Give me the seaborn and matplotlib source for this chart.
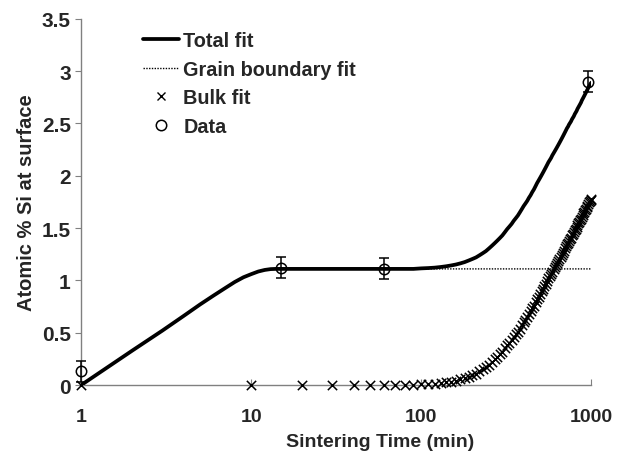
import matplotlib
matplotlib.use("Agg")
import matplotlib.pyplot as plt
from matplotlib.lines import Line2D
import seaborn as sns
import pandas as pd

# Measured data (sintering time in min, atomic % Si, error)
data_time = [1, 15, 60, 960]
data_value = [0.13, 1.12, 1.11, 2.90]
data_err = [0.1, 0.1, 0.1, 0.1]

# Grain boundary fit
gb_time = [1, 2, 3, 4, 5, 6, 7, 8, 9, 10, 11, 12, 13, 14, 15, 16, 18] + list(range(20, 1001, 10))
gb_value = [0, 0.33, 0.52, 0.66, 0.77, 0.855, 0.925, 0.985, 1.03, 1.06,
            1.085, 1.1, 1.108, 1.11, 1.11, 1.11, 1.11] + [1.11] * 99

# Bulk fit (markers at t = 1 and every 10 min)
bulk_time = [1] + list(range(10, 1001, 10))
bulk_value = [
    0,
    0, 0, 0, 0, 0, 0, 0, 0, 0,                                              # 10-90
    0.005, 0.008, 0.012, 0.018, 0.025, 0.033, 0.042, 0.053, 0.065, 0.08,     # 100-190
    0.095, 0.11, 0.13, 0.15, 0.17, 0.195, 0.22, 0.245, 0.27, 0.295,          # 200-290
    0.32, 0.35, 0.38, 0.405, 0.43, 0.46, 0.485, 0.51, 0.54, 0.57,            # 300-390
    0.60, 0.625, 0.65, 0.68, 0.705, 0.735, 0.76, 0.79, 0.82, 0.845,          # 400-490
    0.87, 0.895, 0.92, 0.945, 0.97, 0.995, 1.02, 1.04, 1.06, 1.085,          # 500-590
    1.105, 1.125, 1.145, 1.165, 1.185, 1.205, 1.225, 1.245, 1.265, 1.285,    # 600-690
    1.305, 1.325, 1.345, 1.36, 1.38, 1.395, 1.41, 1.43, 1.445, 1.46,         # 700-790
    1.48, 1.495, 1.51, 1.53, 1.545, 1.56, 1.575, 1.59, 1.61, 1.625,          # 800-890
    1.64, 1.655, 1.67, 1.685, 1.70, 1.715, 1.73, 1.745, 1.755, 1.77,         # 900-990
    1.78,                                                                    # 1000
]

x_ticks = [1, 10, 100, 1000]
x_tick_labels = ["1", "10", "100", "1000"]
y_ticks = [0, 0.5, 1, 1.5, 2, 2.5, 3, 3.5]
y_tick_labels = ["0", "0.5", "1", "1.5", "2", "2.5", "3", "3.5"]


def main():
    sns.set_theme(style="white")
    plt.rcParams["font.family"] = ["Liberation Sans", "DejaVu Sans"]
    plt.rcParams["font.weight"] = "bold"

    # total fit = grain boundary + bulk
    bulk_lookup = dict(zip(bulk_time, bulk_value))
    total_value = [g + bulk_lookup.get(t, 0) for t, g in zip(gb_time, gb_value)]
    fit_df = pd.DataFrame({"time": gb_time, "gb": gb_value, "total": total_value})
    bulk_df = pd.DataFrame({"time": bulk_time, "bulk": bulk_value})

    fig = plt.figure(figsize=(6.25, 4.52), dpi=100)
    ax = fig.add_axes([0.13, 0.146, 0.816, 0.81])

    sns.lineplot(data=fit_df, x="time", y="gb", ax=ax, color="black",
                 linewidth=1.0, linestyle=(0, (1, 1)))
    sns.scatterplot(data=bulk_df, x="time", y="bulk", ax=ax, marker="x",
                    s=45, color="black", linewidth=1.1, zorder=3, clip_on=False)
    sns.lineplot(data=fit_df, x="time", y="total", ax=ax, color="black",
                 linewidth=2.7, zorder=4)
    ax.errorbar(data_time, data_value, yerr=data_err, fmt="o", ms=7.5,
                mfc="none", mec="black", mew=1.1, ecolor="black",
                elinewidth=1.1, capsize=3.5, capthick=1.1, zorder=5,
                clip_on=False)

    ax.set_xscale("log")
    ax.set_xlim(1, 1000)
    ax.set_ylim(0, 3.5)
    ax.set_xticks(x_ticks)
    ax.set_xticklabels(x_tick_labels)
    ax.minorticks_off()
    ax.set_yticks(y_ticks)
    ax.set_yticklabels(y_tick_labels)

    for side in ["top", "right"]:
        ax.spines[side].set_visible(False)
    for side in ["left", "bottom"]:
        ax.spines[side].set_color("#808080")
        ax.spines[side].set_linewidth(1.0)

    ax.tick_params(axis="y", direction="out", length=4.5, width=0.8,
                   color="#808080", labelsize=15, pad=3, left=True)
    ax.tick_params(axis="x", direction="in", length=4, width=0.8,
                   color="#808080", labelsize=14, pad=16.5, bottom=True)
    for lab in ax.get_xticklabels() + ax.get_yticklabels():
        lab.set_fontweight("bold")

    ax.set_xlabel("Sintering Time (min)", fontsize=14, fontweight="bold")
    ax.xaxis.set_label_coords(0.586, -0.132)
    ax.set_ylabel("Atomic % Si at surface", fontsize=14.5, fontweight="bold", labelpad=4)

    handles = [
        Line2D([], [], color="black", linewidth=2.7),
        Line2D([], [], color="black", linewidth=1.0, linestyle=(0, (1, 1))),
        Line2D([], [], color="black", marker="x", linestyle="none", ms=6, mew=1.0),
        Line2D([], [], color="black", marker="o", linestyle="none", ms=7.5,
               mfc="none", mew=1.1),
    ]
    labels = ["Total fit", "Grain boundary fit", "Bulk fit", "Data"]
    ax.legend(handles, labels, loc="upper left", bbox_to_anchor=(0.122, 0.967),
              frameon=False, prop={"weight": "bold", "size": 14.3},
              handlelength=1.8, handletextpad=0.2, labelspacing=0.48,
              borderaxespad=0, borderpad=0)

    fig.savefig("out.png", dpi=100)


if __name__ == "__main__":
    main()
